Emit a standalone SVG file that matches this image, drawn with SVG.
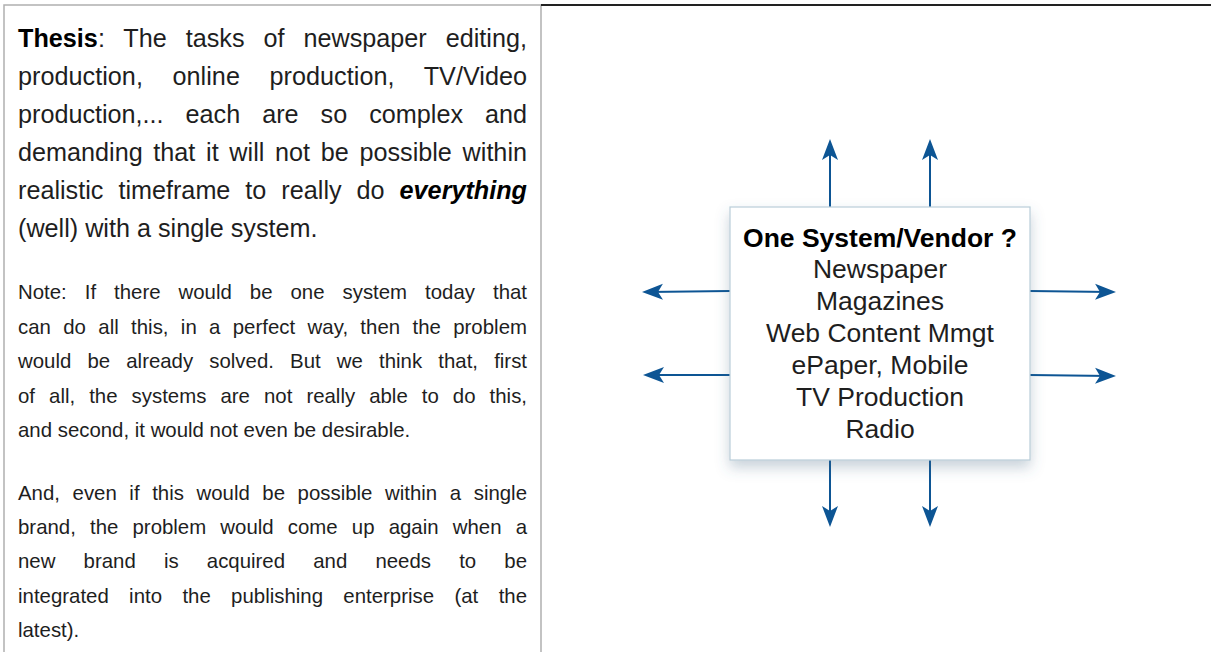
<svg xmlns="http://www.w3.org/2000/svg" width="1211" height="652" viewBox="0 0 1211 652">
<style>
.t{font-family:"Liberation Sans",Arial,sans-serif;fill:#1e1e1e;}
.p1{font-size:25.2px;}
.p2{font-size:20.4px;}
.bx{font-size:26.5px;text-anchor:middle;}
.b{font-weight:bold;fill:#000;}
.conn{stroke:#0d5594;stroke-width:2;fill:none;marker-end:url(#ah);}
</style>
<defs>
<marker id="ah" markerUnits="userSpaceOnUse" markerWidth="24" markerHeight="20" viewBox="0 -10 24 20" refX="15" refY="0" orient="auto">
<path d="M21,0 L0,-8 L5,0 L0,8 Z" fill="#0d5594"/>
</marker>
<filter id="sh" x="-20%" y="-20%" width="140%" height="150%">
<feDropShadow dx="0" dy="7" stdDeviation="7" flood-color="#4a6a86" flood-opacity="0.3"/>
</filter>
</defs>
<rect width="1211" height="652" fill="#fff"/>
<g id="panel">
<path d="M4,652 V5 H541 V652" fill="none" stroke="#b0b0b0" stroke-width="1.5"/>
<line x1="541" y1="5" x2="1211" y2="5" stroke="#222" stroke-width="1.8"/>
<g class="t p1">
<text x="18" y="46.5" word-spacing="11.9" textLength="509" lengthAdjust="spacing"><tspan class="b">Thesis</tspan>: The tasks of newspaper editing,</text>
<text x="18" y="84.5" word-spacing="22.6" textLength="509" lengthAdjust="spacing">production, online production, TV/Video</text>
<text x="18" y="122.5" word-spacing="15" textLength="509" lengthAdjust="spacing">production,... each are so complex and</text>
<text x="18" y="160.5" word-spacing="3.7" textLength="509" lengthAdjust="spacing">demanding that it will not be possible within</text>
<text x="18" y="199" word-spacing="8" textLength="509" lengthAdjust="spacing">realistic timeframe to really do <tspan class="b" font-style="italic">everything</tspan></text>
<text x="18" y="237">(well) with a single system.</text>
</g>
<g class="t p2">
<text x="18" y="299" word-spacing="12.3" textLength="509" lengthAdjust="spacing">Note: If there would be one system today that</text>
<text x="18" y="334" word-spacing="6.6" textLength="509" lengthAdjust="spacing">can do all this, in a perfect way, then the problem</text>
<text x="18" y="368" word-spacing="10.5" textLength="509" lengthAdjust="spacing">would be already solved. But we think that, first</text>
<text x="18" y="403" word-spacing="8.4" textLength="509" lengthAdjust="spacing">of all, the systems are not really able to do this,</text>
<text x="18" y="437">and second, it would not even be desirable.</text>
<text x="18" y="500" word-spacing="6.9" textLength="509" lengthAdjust="spacing">And, even if this would be possible within a single</text>
<text x="18" y="534" word-spacing="8.5" textLength="509" lengthAdjust="spacing">brand, the problem would come up again when a</text>
<text x="18" y="568" word-spacing="22.5" textLength="509" lengthAdjust="spacing">new brand is acquired and needs to be</text>
<text x="18" y="603" word-spacing="14.7" textLength="509" lengthAdjust="spacing">integrated into the publishing enterprise (at the</text>
<text x="18" y="637">latest).</text>
</g>
</g>
<g id="connectors">
<line class="conn" x1="830" y1="207" x2="830" y2="145"/>
<line class="conn" x1="930" y1="207" x2="930" y2="145"/>
<line class="conn" x1="830" y1="460" x2="830" y2="521"/>
<line class="conn" x1="930" y1="460" x2="930" y2="521"/>
<line class="conn" x1="730" y1="291" x2="648" y2="292"/>
<line class="conn" x1="730" y1="375" x2="649" y2="375"/>
<line class="conn" x1="1030" y1="291" x2="1110" y2="292"/>
<line class="conn" x1="1030" y1="375" x2="1110" y2="376"/>
</g>
<g id="node-system">
<rect x="730" y="207" width="300" height="253" fill="#fff" stroke="#b9cdd9" stroke-width="1.2" filter="url(#sh)"/>
<g class="t bx">
<text x="880" y="247" class="b">One System/Vendor ?</text>
<text x="880" y="278">Newspaper</text>
<text x="880" y="310">Magazines</text>
<text x="880" y="342">Web Content Mmgt</text>
<text x="880" y="374">ePaper, Mobile</text>
<text x="880" y="406">TV Production</text>
<text x="880" y="438">Radio</text>
</g>
</g>
</svg>
